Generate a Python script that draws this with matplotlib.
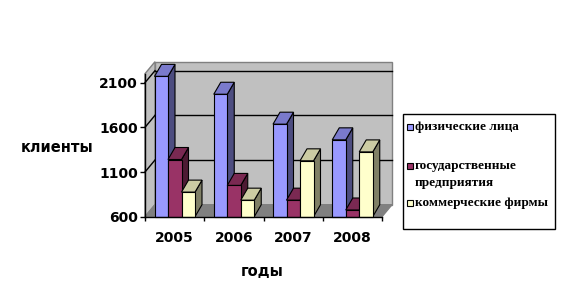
import matplotlib
matplotlib.use("Agg")
import matplotlib.pyplot as plt
from matplotlib.patches import Polygon, Rectangle

# ---- data ----
years = ["2005", "2006", "2007", "2008"]
series_names = ["физические лица", "государственные\nпредприятия", "коммерческие фирмы"]
individuals = [2170, 1970, 1635, 1460]
state_enterprises = [1240, 950, 785, 675]
commercial_firms = [875, 785, 1225, 1325]
y_ticks = [600, 1100, 1600, 2100]

series = [individuals, state_enterprises, commercial_firms]
front_colors = ["#9999FF", "#993366", "#FFFFCC"]
top_colors = ["#7A7ACC", "#7A2952", "#CCCCA3"]
side_colors = ["#4D4D80", "#4D1A33", "#808066"]

W, H = 564, 300
fig = plt.figure(figsize=(W / 100, H / 100), dpi=100)

# front plane of plot area (pixels): x 145..382, y 73.7..216.7
ax = fig.add_axes([145 / W, 1 - 216.7 / H, 237 / W, 143 / H])
ymin, ymax = 600, 2200
ax.set_xlim(0, 4)
ax.set_ylim(ymin, ymax)

px_x = 237 / 4.0           # pixels per category unit
px_y = 143 / (ymax - ymin)  # pixels per value unit
wdx, wdy = 10 / px_x, 12 / px_y   # wall depth offset
bdx, bdy = 7 / px_x, 12 / px_y    # bar depth offset

wall_c = "#C0C0C0"
edge_c = "#808080"
# back wall
ax.add_patch(Polygon([(wdx, ymin + wdy), (4 + wdx, ymin + wdy), (4 + wdx, ymax + wdy), (wdx, ymax + wdy)],
                     closed=True, facecolor=wall_c, edgecolor=edge_c, lw=1, clip_on=False, zorder=1))
# side wall
ax.add_patch(Polygon([(0, ymin), (wdx, ymin + wdy), (wdx, ymax + wdy), (0, ymax)],
                     closed=True, facecolor=wall_c, edgecolor=edge_c, lw=1, clip_on=False, zorder=1))
# floor
ax.add_patch(Polygon([(0, ymin), (4, ymin), (4 + wdx, ymin + wdy), (wdx, ymin + wdy)],
                     closed=True, facecolor="#808080", edgecolor=edge_c, lw=1, clip_on=False, zorder=1))
# gridlines
for t in y_ticks[1:]:
    ax.plot([wdx, 4 + wdx], [t + wdy, t + wdy], color="black", lw=1, clip_on=False, zorder=2)
    ax.plot([0, wdx], [t, t + wdy], color="black", lw=1, clip_on=False, zorder=2)

# bars
bw = 13.5 / px_x
off = 9.5 / px_x
for i in range(len(years)):
    for s in range(3):
        v = series[s][i]
        x0 = i + off + s * bw
        ax.add_patch(Polygon([(x0 + bw, ymin), (x0 + bw + bdx, ymin + bdy), (x0 + bw + bdx, v + bdy), (x0 + bw, v)],
                             closed=True, facecolor=side_colors[s], edgecolor="black", lw=0.8, clip_on=False, zorder=3))
        ax.add_patch(Polygon([(x0, v), (x0 + bw, v), (x0 + bw + bdx, v + bdy), (x0 + bdx, v + bdy)],
                             closed=True, facecolor=top_colors[s], edgecolor="black", lw=0.8, clip_on=False, zorder=3))
        ax.add_patch(Rectangle((x0, ymin), bw, v - ymin, facecolor=front_colors[s], edgecolor="black",
                               lw=0.8, clip_on=False, zorder=3))

ax.patch.set_visible(False)
for sp in ["top", "right"]:
    ax.spines[sp].set_visible(False)
for sp in ["left", "bottom"]:
    ax.spines[sp].set_color("black")
    ax.spines[sp].set_linewidth(1)
    ax.spines[sp].set_zorder(5)

tick_font = dict(family="DejaVu Sans", weight="bold", size=10)
ax.set_yticks(y_ticks)
ax.set_yticklabels([str(t) for t in y_ticks], fontdict=tick_font)
ax.tick_params(axis="y", direction="out", length=3.5, width=1, pad=1.5, colors="black")
ax.set_xticks([i + 0.5 for i in range(len(years))])
ax.set_xticklabels(years, fontdict=tick_font)
ax.set_xticks(list(range(len(years) + 1)), minor=True)
ax.tick_params(axis="x", which="major", length=0, pad=10)
ax.tick_params(axis="x", which="minor", direction="out", length=3, width=1)

fig.text(56.7 / W, 1 - 147.5 / H, "клиенты", ha="center", va="center",
         family="DejaVu Sans", weight="bold", fontsize=10.5)
fig.text(262 / W, 1 - 272 / H, "годы", ha="center", va="center",
         family="DejaVu Sans", weight="bold", fontsize=10.5)

# legend box
fig.patches.append(Rectangle((403 / W, 1 - 229 / H), 152 / W, 115 / H, transform=fig.transFigure,
                             facecolor="white", edgecolor="black", lw=1))
marker_y = [127, 166, 203.3]
text_y = [127, 174.5, 203.3]
for s in range(3):
    fig.patches.append(Rectangle((407 / W, 1 - (marker_y[s] + 3) / H), 6 / W, 6 / H, transform=fig.transFigure,
                                 facecolor=front_colors[s], edgecolor="black", lw=0.8))
    fig.text(415 / W, 1 - text_y[s] / H, series_names[s], ha="left", va="center",
             family="Liberation Serif", weight="bold", fontsize=9.5, linespacing=1.65)

fig.savefig("out.png", dpi=100)
